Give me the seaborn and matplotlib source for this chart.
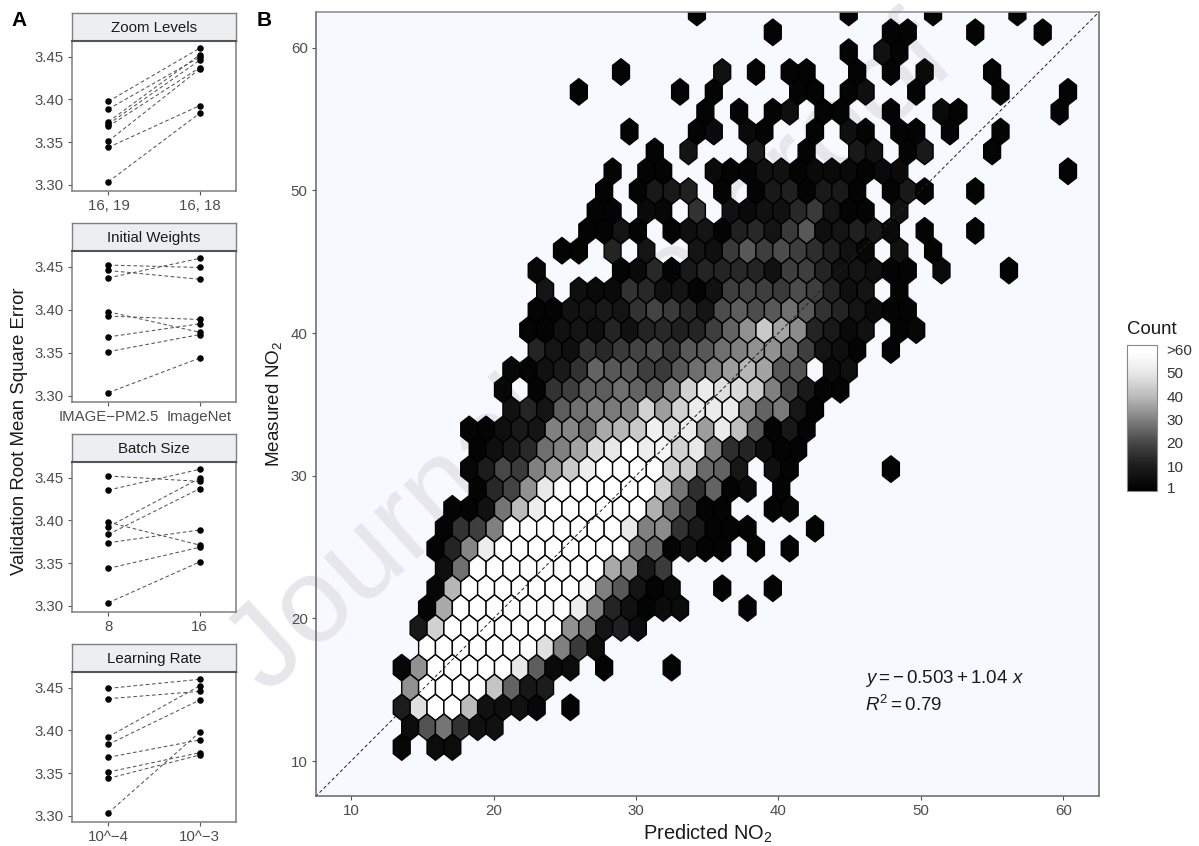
"""
Hyperparameter comparison (A) and predicted vs measured NO2 hexbin (B)
"""

import numpy as np
import pandas as pd
import matplotlib
matplotlib.use('Agg')
import matplotlib.pyplot as plt
import seaborn as sns
from matplotlib.colors import LinearSegmentedColormap, Normalize

W, H = 1199, 846

# Panel A: validation RMSE of each run, left level paired with right level
panel_names = ['Zoom Levels', 'Initial Weights', 'Batch Size', 'Learning Rate']
panel_levels = [['16, 19', '16, 18'], ['IMAGE\u2212PM2.5', 'ImageNet'], ['8', '16'], ['10^\u22124', '10^\u22123']]
zoom_left = [3.3977, 3.3887, 3.3738, 3.3711, 3.3684, 3.3512, 3.3437, 3.3035]
zoom_right = [3.4598, 3.4492, 3.4520, 3.4457, 3.4371, 3.4355, 3.3926, 3.3836]
weights_left = [3.4520, 3.4457, 3.4371, 3.3977, 3.3926, 3.3684, 3.3512, 3.3035]
weights_right = [3.4492, 3.4355, 3.4598, 3.3738, 3.3887, 3.3836, 3.3711, 3.3437]
batch_left = [3.4520, 3.4355, 3.3977, 3.3926, 3.3836, 3.3738, 3.3437, 3.3035]
batch_right = [3.4457, 3.4598, 3.3711, 3.4492, 3.4371, 3.3887, 3.3684, 3.3512]
rate_left = [3.4492, 3.4371, 3.3926, 3.3836, 3.3684, 3.3512, 3.3437, 3.3035]
rate_right = [3.4598, 3.4457, 3.4520, 3.4355, 3.3887, 3.3738, 3.3711, 3.3977]
panel_left = [zoom_left, weights_left, batch_left, rate_left]
panel_right = [zoom_right, weights_right, batch_right, rate_right]
rmse_ticks = [3.30, 3.35, 3.40, 3.45]

# Panel B: hexagon lattice of the binned data, counts per row from the bottom up
hex_x0, hex_y0 = 13.558, 10.98
hex_dx, hex_dy = 1.184, 1.3916
hex_first_col = [0, 0, 0, 0, 0, 1, 1, 1, 2, 2, 2, 2, 3, 4, 4, 4, 4, 6, 6, 6,
                 8, 7, 8, 8, 8, 9, 11, 11, 12, 12, 15, 13, 18, 10, 13, 26, 22, 17]
hex_counts = [
    [2, 0, 4, 4],
    [4, 22, 28, 15, 6, 6],
    [10, 48, 70, 70, 40, 6, 5, 6, 2, 0, 1],
    [33, 70, 70, 70, 70, 42, 25, 8, 10],
    [2, 33, 70, 70, 70, 70, 70, 50, 24, 3, 4, 0, 1, 0, 0, 0, 1],
    [70, 70, 70, 70, 70, 70, 70, 48, 30, 17, 4],
    [9, 45, 70, 70, 70, 70, 70, 70, 70, 33, 28, 7, 11, 4],
    [1, 37, 70, 70, 70, 70, 70, 70, 70, 52, 30, 12, 6, 1, 4, 4, 0, 0, 0, 1],
    [2, 39, 70, 70, 70, 70, 70, 70, 70, 56, 30, 23, 7, 1, 3, 0, 0, 1, 0, 0, 1],
    [5, 27, 70, 70, 70, 70, 70, 70, 70, 70, 37, 33, 9, 17],
    [1, 12, 31, 52, 70, 70, 70, 70, 70, 70, 70, 70, 28, 25, 1, 6, 1, 1, 0, 1, 0, 1],
    [1, 15, 18, 30, 70, 70, 70, 70, 70, 70, 70, 50, 30, 32, 15, 9, 1, 1, 1, 0, 0, 0, 1],
    [1, 1, 6, 28, 40, 52, 70, 70, 70, 70, 70, 70, 38, 28, 17, 1, 1, 0, 0, 1, 2],
    [1, 13, 19, 33, 50, 58, 70, 70, 70, 60, 60, 45, 28, 14, 25, 1, 3, 0, 1],
    [2, 10, 20, 17, 30, 35, 43, 52, 70, 58, 60, 58, 45, 43, 26, 25, 8, 0, 5, 1, 0, 0, 0, 0, 0, 1],
    [1, 5, 9, 13, 27, 30, 36, 47, 50, 60, 52, 55, 45, 50, 30, 14, 12, 5, 1, 1],
    [1, 1, 5, 9, 7, 30, 31, 27, 37, 39, 43, 53, 48, 51, 35, 51, 41, 23, 1, 8, 1],
    [6, 12, 7, 24, 27, 30, 29, 31, 45, 35, 45, 51, 51, 51, 33, 25, 29, 8, 1],
    [2, 0, 1, 15, 18, 24, 24, 27, 25, 24, 30, 45, 51, 48, 47, 43, 30, 20, 9, 1, 1],
    [2, 1, 6, 9, 15, 25, 23, 23, 18, 17, 23, 27, 30, 35, 39, 36, 23, 22, 0, 3, 5],
    [12, 7, 5, 15, 13, 17, 19, 21, 17, 23, 23, 27, 30, 33, 33, 28, 18, 7, 5, 1, 0, 1],
    [1, 1, 6, 7, 5, 12, 6, 12, 13, 11, 12, 18, 25, 33, 43, 36, 32, 12, 9, 3, 6, 0, 1, 2],
    [1, 1, 6, 7, 9, 7, 15, 19, 17, 13, 7, 21, 24, 21, 23, 27, 23, 15, 12, 7, 3, 1, 1],
    [7, 0, 5, 3, 3, 15, 13, 6, 7, 1, 6, 18, 19, 18, 17, 21, 18, 12, 5, 7, 0, 1],
    [2, 0, 0, 0, 0, 1, 3, 13, 1, 9, 12, 12, 13, 12, 6, 18, 18, 12, 6, 7, 5, 1, 1, 0, 3, 0, 0, 0, 1],
    [1, 1, 0, 12, 0, 7, 0, 0, 7, 5, 17, 23, 18, 21, 18, 14, 11, 6, 2, 0, 6, 0, 1],
    [1, 1, 7, 1, 0, 1, 5, 7, 1, 11, 13, 7, 17, 23, 5, 7, 11, 8, 3, 0, 1, 0, 0, 1],
    [1, 1, 0, 3, 2, 0, 15, 0, 6, 3, 6, 6, 13, 17, 7, 1, 1, 0, 6],
    [1, 0, 1, 9, 9, 11, 0, 1, 0, 1, 9, 11, 1, 9, 9, 1, 0, 1, 9, 1, 0, 0, 1],
    [1, 0, 1, 1, 0, 0, 3, 1, 1, 6, 6, 1, 3, 3, 3, 1, 3, 3, 0, 0, 0, 0, 0, 0, 0, 0, 0, 1],
    [1, 0, 7, 0, 0, 0, 9, 0, 0, 1, 0, 0, 9, 6, 0, 1, 9, 0, 0, 0, 1],
    [1, 0, 0, 0, 1, 3, 0, 3, 1, 0, 0, 1, 0, 5, 1, 0, 1, 1, 0, 1, 0, 0, 1],
    [1, 0, 1, 0, 1, 5, 0, 1, 1, 0, 0, 1, 0, 0, 3, 1, 0, 0, 0, 0, 0, 1],
    [1, 0, 0, 0, 0, 0, 1, 0, 1, 0, 0, 0, 0, 1, 1, 0, 1, 5, 0, 0, 1, 0, 0, 0, 0, 1, 0, 0, 0, 1],
    [1, 0, 0, 0, 0, 0, 6, 0, 1, 0, 1, 1, 0, 0, 1, 0, 1, 0, 3, 0, 0, 0, 1],
    [1, 0, 6, 1],
    [1, 0, 0, 0, 0, 0, 0, 1, 1, 0, 0, 0, 1, 0, 0, 0, 1],
    [1, 0, 0, 0, 0, 0, 0, 0, 0, 1, 0, 0, 0, 0, 1, 0, 0, 0, 0, 1],
]
count_ticks = [1, 10, 20, 30, 40, 50, 60]
count_labels = ['1', '10', '20', '30', '40', '50', '>60']

sns.set_theme(style='white')
plt.rcParams['font.family'] = ['Liberation Sans', 'DejaVu Sans']
plt.rcParams['mathtext.fontset'] = 'custom'
plt.rcParams['mathtext.rm'] = 'Liberation Sans'
plt.rcParams['mathtext.it'] = 'Liberation Sans:italic'

TICK_COLOR = '#4D4D4D'
EDGE_COLOR = '#7F7F7F'
COUNT_CMAP = LinearSegmentedColormap.from_list('count', [
    (0.0, '#000000'), (0.17, '#1C1C1C'), (0.33, '#474747'), (0.49, '#808080'),
    (0.65, '#BBBBBB'), (0.81, '#E8E8E8'), (0.95, '#FFFFFF'), (1.0, '#FFFFFF')])


def px_axes(fig, left, top, right, bottom):
    return fig.add_axes([left / W, 1 - bottom / H, (right - left) / W, (bottom - top) / H])


# ==============================================================================
# Panel A
# ==============================================================================
def draw_facet(fig, i, top, bottom):
    strip = px_axes(fig, 72, top, 236, top + 28)
    strip.set_facecolor('#ECEFF2')
    strip.set_xticks([])
    strip.set_yticks([])
    for side in strip.spines.values():
        side.set_color(EDGE_COLOR)
        side.set_linewidth(1.0)
    strip.text(0.5, 0.47, panel_names[i], ha='center', va='center', fontsize=10.8,
               color='#1A1A1A', transform=strip.transAxes)

    ax = px_axes(fig, 72, top + 28, 236, bottom)
    levels = panel_levels[i]
    left, right = panel_left[i], panel_right[i]
    df = pd.DataFrame({
        'level': [levels[0]] * len(left) + [levels[1]] * len(right),
        'rmse': left + right,
        'run': list(range(len(left))) * 2,
    })
    sns.lineplot(data=df, x='level', y='rmse', units='run', estimator=None, sort=False,
                 color='#555555', linestyle=(0, (3.5, 2.5)), linewidth=0.75, ax=ax)
    sns.scatterplot(data=df, x='level', y='rmse', color='black', s=22, linewidth=0, ax=ax, zorder=3)
    ax.set_xlim(-0.4, 1.4)
    ax.set_ylim(3.2926, 3.4684)
    ax.set_yticks(rmse_ticks)
    ax.set_yticklabels([f'{v:.2f}' for v in rmse_ticks])
    ax.set_xlabel('')
    ax.set_ylabel('')
    ax.tick_params(axis='both', left=True, bottom=True, length=3, width=0.8, color='#555555',
                   labelcolor=TICK_COLOR, labelsize=10.8, pad=3)
    for side in ax.spines.values():
        side.set_color(EDGE_COLOR)
        side.set_linewidth(1.1)
    ax.spines['top'].set_color('#555555')
    ax.spines['top'].set_linewidth(1.5)


def panel_a(fig):
    tops = [13, 223, 434, 644]
    bottoms = [191, 402, 612, 822]
    for i in range(4):
        draw_facet(fig, i, tops[i], bottoms[i])
    fig.text(20 / W, 1 - 431 / H, 'Validation Root Mean Square Error', rotation=90,
             ha='center', va='center', fontsize=13.4, color='#1A1A1A')
    fig.text(11.5 / W, 1 - 21 / H, 'A', fontsize=15, fontweight='bold', va='center', color='black')
    fig.text(257 / W, 1 - 21 / H, 'B', fontsize=15, fontweight='bold', va='center', color='black')


# ==============================================================================
# Panel B
# ==============================================================================
def panel_b(fig):
    ax = px_axes(fig, 316, 12, 1099, 796)
    ax.set_facecolor('#F6F9FF')

    xs, ys, cs = [], [], []
    for k, (first, row) in enumerate(zip(hex_first_col, hex_counts)):
        for c, count in enumerate(row, start=first):
            if count > 0:
                xs.append(hex_x0 + (c + 0.5 * (k % 2)) * hex_dx)
                ys.append(hex_y0 + k * hex_dy)
                cs.append(count)

    ax.text(592 / W, 1 - 358 / H, 'Journal Pre-proof', transform=fig.transFigure, rotation=42.3,
            rotation_mode='anchor', ha='center', va='center', fontsize=87, color='#E7E7EB',
            zorder=0.5, clip_on=False)

    hb = ax.hexbin(xs, ys, C=cs, reduce_C_function=np.sum, gridsize=(44, 19),
                   extent=(hex_x0, hex_x0 + 44 * hex_dx, hex_y0, hex_y0 + 38 * hex_dy),
                   cmap=COUNT_CMAP, norm=Normalize(-0.7, 62), edgecolors='black', linewidths=1.0, zorder=1)

    ax.plot([7.5, 62.5], [7.5, 62.5], color='#222222', linestyle=(0, (3.5, 2.5)), linewidth=0.7, zorder=2)
    ax.set_xlim(7.54, 62.5)
    ax.set_ylim(7.55, 62.5)
    ax.set_xticks([10, 20, 30, 40, 50, 60])
    ax.set_yticks([10, 20, 30, 40, 50, 60])
    ax.set_xlabel('Predicted NO$_2$', fontsize=14.4, color='#1A1A1A', labelpad=3)
    ax.set_ylabel('Measured NO$_2$', fontsize=13.6, color='#1A1A1A', labelpad=5)
    ax.tick_params(axis='both', left=True, bottom=True, length=3, width=0.8, color='#555555',
                   labelcolor=TICK_COLOR, labelsize=10.8, pad=3)
    for side in ax.spines.values():
        side.set_color('#666666')
        side.set_linewidth(1.1)
    ax.spines['top'].set_color('#888888')

    ax.text(865 / W, 1 - 678 / H, r'$y = -\,0.503 + 1.04\ x$', transform=fig.transFigure,
            fontsize=13.5, va='center', color='#1A1A1A')
    ax.text(865 / W, 1 - 705 / H, r'$R^2 = 0.79$', transform=fig.transFigure,
            fontsize=13.5, va='center', color='#1A1A1A')

    cax = px_axes(fig, 1127, 345, 1157, 491)
    cb = fig.colorbar(hb, cax=cax)
    cb.set_ticks(count_ticks)
    cb.set_ticklabels(count_labels)
    cb.outline.set_edgecolor('#888888')
    cb.outline.set_linewidth(0.8)
    cax.tick_params(axis='y', left=True, right=True, direction='in', length=5, width=0.7,
                    color='#888888', labelcolor='#333333', labelsize=11, pad=7)
    fig.text(1127 / W, 1 - 329 / H, 'Count', fontsize=13.4, va='center', color='#1A1A1A')


def main():
    fig = plt.figure(figsize=(W / 100, H / 100), dpi=100, facecolor='white')
    panel_b(fig)
    panel_a(fig)
    plt.savefig('out.png', dpi=100)
    plt.close()


if __name__ == "__main__":
    main()
